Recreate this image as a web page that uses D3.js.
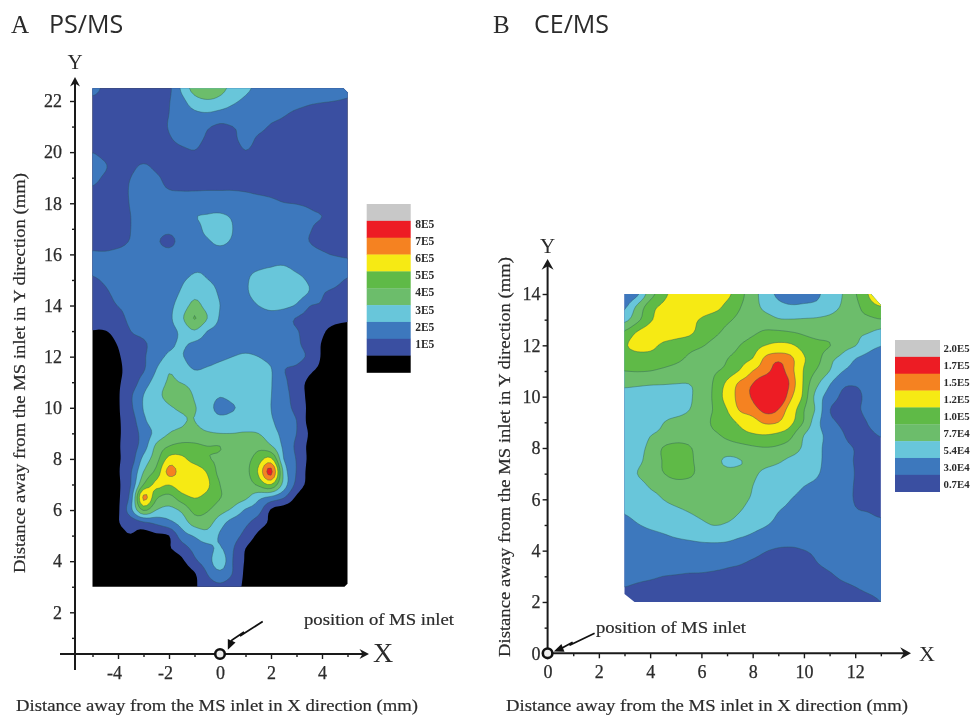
<!DOCTYPE html>
<html>
<head>
<meta charset="utf-8">
<script src="https://cdn.jsdelivr.net/npm/d3@7"></script>
<style>
html,body{margin:0;padding:0;background:#fff;overflow:hidden}
svg{display:block;filter:blur(0.45px)}
text{font-family:"Liberation Serif",serif;fill:#2b2b2b}
</style>
</head>
<body>
<svg id="chart" width="971" height="715"></svg>
<script>
// ---------- shared ----------
const bandColors = ["#000000","#3a4fa1","#3d78bd","#68c6da","#6cbd6b","#5fba47","#f6ea14","#f58221","#ed1c24","#c8c8c8"];
const yAxisTitle = "Distance away from the MS inlet in Y direction (mm)";
const xAxisTitle = "Distance away from the MS inlet in X direction (mm)";
const inletLabel = "position of MS inlet";

// ---------- panel A: PS/MS, intensity in units of 1E5 ----------
const psThresholds = [0,1,2,3,4,5,6,7,8,9];
const psLegend = ["8E5","7E5","6E5","5E5","4E5","3E5","2E5","1E5"];
const psXTicks = [-4,-2,0,2,4];
const psXMinor = [-5,-3,-1,1,3,5];
const psYTicks = [2,4,6,8,10,12,14,16,18,20,22];
const psYMinor = [1,3,5,7,9,11,13,15,17,19,21];
const psXRange = [-5,5];
const psYRange = [3,22.5];
const psGrid = [
[2.3,1.8,1.6,1.6,1.6,1.7,1.8,3.2,4.4,4.6,4.3,3.7,3.2,2.8,2.6,2.5,2.4,2.4,2.4,2.3,2.1],
[1.8,1.7,1.6,1.6,1.6,1.6,1.95,2.7,3.6,3.9,3.7,3.2,2.8,2.5,2.4,2.3,2.2,2.1,2.05,2,1.95],
[1.7,1.6,1.6,1.6,1.6,1.6,2,2.4,2.8,2.9,2.7,2.5,2.3,2.2,2.15,2.05,1.9,1.8,1.7,1.7,1.6],
[1.6,1.6,1.5,1.5,1.5,1.6,2.05,2.3,2.4,2.1,1.85,2,2.15,2.15,1.95,1.85,1.7,1.6,1.6,1.5,1.5],
[1.6,1.6,1.5,1.5,1.5,1.5,1.9,2.2,2.2,1.9,1.7,1.85,2.2,1.9,1.7,1.6,1.6,1.5,1.5,1.5,1.5],
[1.98,1.7,1.5,1.5,1.5,1.5,1.6,1.8,1.95,1.7,1.5,1.6,1.95,1.7,1.6,1.5,1.5,1.5,1.5,1.5,1.5],
[2.4,2.05,1.7,1.8,2.05,1.8,1.6,1.5,1.5,1.5,1.5,1.5,1.5,1.5,1.5,1.5,1.5,1.5,1.5,1.5,1.5],
[2.2,1.9,1.8,2,2.3,2.1,1.8,1.7,1.7,1.7,1.7,1.7,1.6,1.6,1.6,1.5,1.5,1.5,1.5,1.5,1.5],
[1.9,1.7,1.8,2.05,2.3,2.2,2.02,1.98,1.98,2,2,2,1.95,1.85,1.8,1.7,1.7,1.6,1.6,1.5,1.5],
[1.7,1.6,1.7,2.05,2.4,2.5,2.4,2.4,2.5,2.6,2.6,2.5,2.4,2.3,2.15,2.02,1.98,1.9,1.7,1.6,1.6],
[1.7,1.6,1.7,2,2.4,2.5,2.4,2.5,2.95,3.05,3.1,2.9,2.5,2.4,2.3,2.3,2.2,2.1,2,1.7,1.6],
[1.6,1.6,1.7,2,2.3,2.3,2.2,2.4,2.7,3.2,3.4,3,2.6,2.5,2.4,2.4,2.2,2.05,1.8,1.6,1.6],
[1.7,1.7,1.8,2.05,2.3,2.1,1.8,2.3,2.6,2.9,3.15,2.9,2.6,2.5,2.5,2.5,2.3,2,1.8,1.7,1.7],
[2.1,2.1,2.2,2.3,2.4,2.4,2.3,2.5,2.6,2.7,2.7,2.6,2.6,2.7,2.8,2.7,2.6,2.3,2.1,1.95,1.9],
[2.2,2.4,2.5,2.5,2.6,2.6,2.6,2.7,2.9,2.9,2.7,2.7,2.8,2.9,3,3.05,2.85,2.7,2.5,2.4,2.2],
[1.9,2.1,2.3,2.4,2.5,2.5,2.6,2.9,3.15,3.02,2.8,2.7,2.9,3.3,3.5,3.5,3.2,2.9,2.5,2.2,1.95],
[1.7,1.9,2.2,2.4,2.5,2.5,2.7,3.1,3.7,3.4,2.9,2.7,2.9,3.3,3.5,3.5,3.4,2.95,2.1,1.85,1.7],
[1.5,1.7,2.02,2.2,2.4,2.5,2.8,3.4,4.3,3.6,3,2.7,2.7,3,3.2,3.2,2.9,2.05,1.9,1.5,1.4],
[1.2,1.4,1.7,2.2,2.3,2.4,2.8,3.8,5.05,4,2.9,2.6,2.5,2.6,2.7,2.4,1.95,1.7,1.5,1.3,1.15],
[.98,.98,1.3,2,2.2,2.4,2.7,3.2,3.9,3,2.7,2.6,2.4,2.5,2.5,2.3,2.05,1.7,1.15,.7,.6],
[.5,.7,1.05,1.6,1.9,2.3,2.8,3.1,2.85,2.6,2.5,2.4,2.4,2.4,2.4,2.3,2.15,1.6,.95,.6,.5],
[.3,.4,.9,1.4,1.9,2.5,3.2,3.05,2.7,2.6,2.8,3,3.2,3,2.7,2.5,2.3,1.8,.9,.5,.4],
[.3,.4,.85,1.3,1.9,3,3.9,3.4,2.98,3.1,3.3,3.4,3.5,3.4,3.05,2.05,1.8,1.2,.8,.4,.3],
[.3,.4,.9,1.4,2.5,3.4,4.1,3.95,3.6,3.4,3.4,3.5,3.6,3.5,3.05,2.25,1.4,.85,.5,.3,.3],
[.3,.4,.9,1.85,3,3.7,4.3,4.5,3.9,3.5,3.1,3.4,3.6,3.5,3.02,2.4,1.5,.8,.5,.3,.3],
[.3,.4,.9,1.8,3.05,3.5,3.9,4.1,4.05,3.5,2.6,2.9,3.4,3.4,3,2.4,1.7,.8,.4,.3,.3],
[.3,.4,.9,1.5,2.8,3.5,3.8,3.95,4,3.6,3.4,3.5,3.5,3.4,3.1,2.5,2,.7,.4,.3,.3],
[.3,.4,.9,1.4,2.4,3.3,4,4.2,4.3,4.1,4,4,4.05,4,3.4,2.7,2,.9,.4,.3,.3],
[.2,.3,.9,1.5,2.5,4.2,5,5.3,5.2,5,5,4.5,4.1,4.7,4.1,2.8,1.8,.8,.4,.3,.3],
[.2,.3,.9,1.5,3.3,4.6,6.3,6.2,5.6,5.1,4.8,4.4,4.6,5.5,6.2,3,1.95,.8,.4,.3,.3],
[.2,.3,.9,1.9,4,5.3,7.3,6.6,6.6,5.9,4.7,4.5,4.7,6.1,8.3,3.7,1.95,.7,.3,.3,.3],
[.2,.3,.85,2,5,6.2,6.05,6.6,6.7,6.2,5,4.4,4.5,5.2,6,3.6,1.7,.7,.3,.3,.3],
[.2,.2,.85,2.4,7.2,5.2,4.7,5.6,6.05,5.7,5.05,4.5,4.2,3.3,2.8,2.1,.85,.3,.3,.3,.3],
[.2,.3,.85,2.7,5.1,4,3.7,4.2,5.3,5.1,4.4,3.8,2.9,2.4,.9,.5,.3,.3,.3,.3,.3],
[.2,.3,.95,1.3,1.8,2.2,2.7,3.4,4.4,4.4,3.4,2.6,2.2,1.5,.8,.4,.3,.3,.3,.3,.3],
[.2,.3,.7,.95,.6,.8,1,2.5,3.1,3.6,2.9,2.4,1.7,.8,.4,.3,.3,.3,.3,.3,.3],
[.2,.2,.2,.3,.3,.4,.9,1.5,2.3,2.7,3.1,2.1,1,.4,.3,.3,.3,.3,.3,.3,.3],
[.2,.2,.2,.2,.2,.2,.4,.8,1.8,2.5,3.6,2,.9,.3,.3,.3,.3,.3,.3,.3,.3],
[.2,.2,.2,.2,.2,.2,.2,.3,.9,2,2.7,1.95,.8,.3,.3,.3,.3,.3,.3,.3,.3],
[.2,.2,.2,.2,.2,.2,.2,.2,.85,1.5,1.8,1.4,.8,.2,.2,.2,.2,.2,.2,.2,.2]
];

// ---------- panel B: CE/MS, intensity in units of 1E4 ----------
const ceThresholds = [0,0.7,3,5.4,7.7,10,12,15,17,20];
const ceLegend = ["2.0E5","1.7E5","1.5E5","1.2E5","1.0E5","7.7E4","5.4E4","3.0E4","0.7E4"];
const ceXTicks = [0,2,4,6,8,10,12];
const ceXMinor = [1,3,5,7,9,11,13];
const ceYTicks = [0,2,4,6,8,10,12,14];
const ceYMinor = [1,3,5,7,9,11,13];
const ceXRange = [3,13];
const ceYRange = [2,14];
const ceGrid = [
[3.5,5,9,11.3,13,14.6,14,13.3,12.5,10.7,8.7,6.5,5,4.3,4.6,5,6.6,7.7,9.8,12,14],
[5,8.2,11.2,12.4,13.4,13.5,13.3,12.8,11.4,10.1,8.8,7,6.1,5.7,5.8,6,6.7,8,9.4,11,11.9],
[7,9.4,11.7,12.8,13.2,12.7,11.8,10.9,10.3,9.6,9.2,8.8,7.9,7.8,7.9,8,8.3,8.9,9.3,9.5,9.9],
[10.4,12.2,13,13,12.8,12.4,11.3,10.4,9.6,9.2,9.7,10.3,10.4,10.1,9.7,9.3,8.9,8.5,8.1,7.8,7],
[11.8,12.8,12.5,11.7,11.2,10.7,10.2,9.4,8.9,10,10.9,12,12.6,12.3,11,10.5,10.1,8.5,7.8,6.3,5.5],
[10.8,11,11.3,11.1,10.6,9.7,9,8.7,9.9,11,12,15.5,16.5,15.5,12.2,10.8,8.4,7.1,5.5,4.8,4.3],
[10,10.1,10,9.6,9.1,8.7,8.5,9.7,10.6,12.2,15,16.4,17.6,15.8,11.8,9.8,7.7,5.5,4.6,4.3,4.2],
[8.3,8.1,7.9,7.8,7.7,7.7,8.3,10.3,12.5,15.6,17,18.5,18.6,16.5,11.6,8.2,5.6,3.5,3.2,3.7,4.1],
[6.5,6.4,6.3,6.5,6.8,7.4,8.6,10.4,13,16,17.2,19,19.2,15.4,11.3,6.8,4.4,2.6,2.4,3.6,4.2],
[6.1,6.1,6.1,6.2,6.4,7.6,8.8,10.2,12,15.3,16.2,17.6,17,13.5,10.1,7.2,3.1,2.3,2.5,3.7,4.2],
[5.9,6,6.3,7.6,8.6,8.9,9,10.4,10.9,12.5,13.9,15.4,15,12.5,9.8,6.2,3.7,2.6,2,3.1,3.8],
[5.8,6.2,7.6,8.3,9,9.2,9.3,9.7,10.4,11.2,11.7,11.9,11.4,10.4,7.7,6.1,4.7,3.2,2.3,2.6,3.1],
[5.6,6.8,8.3,10.1,10.6,10.2,9.3,9,9,9.3,9.7,9.9,9.7,9,7.3,6,4.6,3.5,2.9,2,2.5],
[5.6,7,8.7,10.1,10.9,10.4,9.3,8.4,7.3,7.6,8.3,8.4,8,7.1,6.5,6,4.4,3.6,2.9,2.2,2.1],
[5.5,7.7,9,9.9,10.7,10.4,9.4,8.8,8.4,8.3,8,7.3,6.8,6.4,6.1,5.6,4.5,3.7,2.95,2.1,2],
[5.9,6.5,7.9,8.5,9,9.1,9,8.9,8.8,8.6,7.7,7,6.4,5.9,5.4,5,4.4,3.6,2.9,2.2,2.1],
[5.8,6.1,6.8,7.7,8.3,8.6,8.7,8.6,8.5,8.1,7.5,6.7,6,5.4,5,4.7,4.2,3.6,2.9,2.4,2.4],
[5.5,5.9,6.3,6.7,7.2,7.7,8.1,8.3,8.2,7.7,7,6.2,5.4,5,4.5,4.3,4.1,3.7,3.15,3,2.7],
[4.8,5.3,5.7,6,6.4,6.8,7.3,7.75,7.5,6.9,6,5.5,5,4.7,4.4,4.3,4.1,3.9,3.7,3.5,3.4],
[4.2,4.5,4.8,5.1,5.4,5.6,5.8,5.9,5.8,5.4,5,4.6,4.3,4.2,4.1,4.1,4,3.9,3.8,3.7,3.6],
[3.7,4,4.2,4.4,4.5,4.6,4.7,4.7,4.6,4.2,3.7,3.1,2.7,2.6,2.95,3.3,3.5,3.6,3.7,3.7,3.7],
[3.6,3.7,3.8,3.8,3.8,3.7,3.6,3.5,3.3,3.1,2.7,2.4,2.2,2.2,2.4,2.95,3.3,3.5,3.6,3.7,3.7],
[3.4,3.3,3.2,3,2.9,2.8,2.8,2.7,2.6,2.4,2.2,2,1.9,1.9,2,2.4,2.8,3.2,3.4,3.5,3.6],
[2.9,2.7,2.5,2.4,2.3,2.2,2.2,2.1,2.1,2,1.9,1.8,1.7,1.7,1.8,2,2.3,2.6,2.9,3.2,3.4],
[2.2,2.1,2,1.9,1.8,1.8,1.7,1.7,1.6,1.6,1.5,1.5,1.5,1.4,1.5,1.7,1.9,2.1,2.3,2.6,3]
];

const svg = d3.select("#chart");

// Rendering helper: resample a read grid with a Catmull-Rom kernel so the drawn contours are round
function refine(grid, k){
  const ny=grid.length, nx=grid[0].length;
  const cr=(a,b,c,d,t)=>0.5*(2*b+(c-a)*t+(2*a-5*b+4*c-d)*t*t+(3*b-a-3*c+d)*t*t*t);
  const at=(j,i)=>grid[Math.max(0,Math.min(ny-1,j))][Math.max(0,Math.min(nx-1,i))];
  const out=[];
  for(let m=0;m<=(ny-1)*k;m++){
    const j=Math.min(Math.floor(m/k),ny-2), v=m/k-j;
    const row=[];
    for(let n=0;n<=(nx-1)*k;n++){
      const i=Math.min(Math.floor(n/k),nx-2), u=n/k-i;
      const c=[-1,0,1,2].map(dj=>cr(at(j+dj,i-1),at(j+dj,i),at(j+dj,i+1),at(j+dj,i+2),u));
      row.push(cr(c[0],c[1],c[2],c[3],v));
    }
    out.push(row);
  }
  return out;
}

function panel(cfg){
  const g = svg.append("g");
  const {sx, sy, thresholds, colors, xRange, yRange} = cfg;
  const grid = refine(cfg.grid,4);
  const ny = grid.length, nx = grid[0].length;
  const dx = (xRange[1]-xRange[0])/(nx-1), dy = (yRange[1]-yRange[0])/(ny-1);
  const contours = d3.contours().size([nx,ny]).smooth(true).thresholds(thresholds)(grid.flat().map(v=>Math.max(v,0.01)));
  const path = d3.geoPath(d3.geoTransform({point(cx,cy){
    this.stream.point(sx(xRange[0]+(cx-0.5)*dx), sy(yRange[1]-(cy-0.5)*dy));
  }}));
  const x0=sx(xRange[0]),x1=sx(xRange[1]),y0=sy(yRange[0]),y1=sy(yRange[1]);
  const c=cfg.corner;
  const outline = [[x0+c.bl[0],y0],[x1-c.br[0],y0],[x1,y0-c.br[1]],[x1,y1+c.tr[1]],[x1-c.tr[0],y1],[x0,y1],[x0,y0-c.bl[1]]];
  g.append("clipPath").attr("id",cfg.id).append("polygon").attr("points",outline.join(" "));
  g.append("g").attr("clip-path",`url(#${cfg.id})`).selectAll("path").data(contours).join("path")
    .attr("d",path)
    .attr("fill",(d,i)=>colors[i])
    .attr("stroke",(d,i)=>i<2?"none":"#2d5a5a")
    .attr("stroke-opacity",0.6)
    .attr("stroke-width",0.7);

  // axes
  const ink="#1a1a1a";
  const xAxis = g.append("g").attr("transform",`translate(0,${cfg.xAxisY})`);
  xAxis.call(d3.axisBottom(sx).tickValues(cfg.xTicks).tickFormat(d=>String(d)).tickSize(5).tickPadding(cfg.xPad));
  const xMin = g.append("g").attr("transform",`translate(0,${cfg.xAxisY})`);
  xMin.call(d3.axisBottom(sx).tickValues(cfg.xMinor).tickFormat("").tickSize(3));
  const yAxis = g.append("g").attr("transform",`translate(${cfg.yAxisX},0)`);
  yAxis.call(d3.axisLeft(sy).tickValues(cfg.yTicks).tickSize(5).tickPadding(cfg.yPad));
  const yMin = g.append("g").attr("transform",`translate(${cfg.yAxisX},0)`);
  yMin.call(d3.axisLeft(sy).tickValues(cfg.yMinor).tickFormat("").tickSize(3));
  [xAxis,xMin,yAxis,yMin].forEach(a=>{
    a.select(".domain").remove();
    a.selectAll("line").attr("stroke",ink).attr("stroke-width",1.4);
    a.selectAll("text").attr("font-size",18).attr("font-family","Liberation Serif").attr("fill","#2b2b2b").attr("stroke","#2b2b2b").attr("stroke-width",0.25);
  });
  xAxis.selectAll("text").attr("dx",d=>d<0?-4:0);
  // axis lines with arrow heads
  const ax = g.append("g").attr("stroke",ink).attr("fill","none");
  ax.append("line").attr("x1",cfg.yAxisX).attr("x2",cfg.yAxisX).attr("y1",cfg.yLine[0]).attr("y2",cfg.yLine[1]).attr("stroke-width",2);
  ax.append("line").attr("x1",cfg.xLine[0]).attr("x2",cfg.xLine[1]).attr("y1",cfg.xAxisY).attr("y2",cfg.xAxisY).attr("stroke-width",2);
  const ah=cfg.arrow;
  const ytip=cfg.yLine[0], xtip=cfg.xLine[1];
  g.append("path").attr("fill",ink).attr("d",`M${cfg.yAxisX},${ytip-3}L${cfg.yAxisX+ah},${ytip+ah*1.3}L${cfg.yAxisX},${ytip+ah*0.7}L${cfg.yAxisX-ah},${ytip+ah*1.3}Z`);
  g.append("path").attr("fill",ink).attr("d",`M${xtip+3},${cfg.xAxisY}L${xtip-ah*1.3},${cfg.xAxisY-ah}L${xtip-ah*0.7},${cfg.xAxisY}L${xtip-ah*1.3},${cfg.xAxisY+ah}Z`);

  // axis letters and titles
  g.append("text").attr("x",cfg.yAxisX).attr("y",cfg.yLetterY).attr("text-anchor","middle").attr("font-size",21).text("Y");
  g.append("text").attr("x",cfg.xLetter[0]).attr("y",cfg.xLetter[1]).attr("font-size",cfg.xLetter[2]).text("X");
  g.append("text").attr("transform",`translate(${cfg.yTitle[0]},${cfg.yTitle[1]}) rotate(-90)`).attr("font-size",16.5)
    .attr("stroke","#2b2b2b").attr("stroke-width",0.2)
    .attr("textLength",400).attr("lengthAdjust","spacingAndGlyphs").text(yAxisTitle);
  g.append("text").attr("x",cfg.xTitle[0]).attr("y",cfg.xTitle[1]).attr("font-size",16.5)
    .attr("stroke","#2b2b2b").attr("stroke-width",0.2)
    .attr("textLength",402).attr("lengthAdjust","spacingAndGlyphs").text(xAxisTitle);

  // panel title
  g.append("text").attr("x",cfg.letter[0]).attr("y",33).attr("font-size",25).text(cfg.letter[1]);
  g.append("text").attr("x",cfg.title[0]).attr("y",33).attr("font-size",25).style("font-family","'Open Sans',sans-serif").attr("fill","#222").text(cfg.title[1]);

  // MS inlet marker, arrow and label
  const ix=sx(0), iy=cfg.xAxisY;
  g.append("circle").attr("cx",ix).attr("cy",iy).attr("r",4.8).attr("fill","#eee").attr("stroke","#111").attr("stroke-width",2.6);
  const zig=cfg.zig.map(p=>[ix+p[0],iy+p[1]]);
  g.append("path").attr("d",d3.line()(zig)).attr("fill","none").attr("stroke","#111").attr("stroke-width",1.8);
  const t=zig[zig.length-1], b=zig[zig.length-2], ang=Math.atan2(t[1]-b[1],t[0]-b[0]);
  const hd=[[t[0]+Math.cos(ang)*3,t[1]+Math.sin(ang)*3],
    [t[0]-Math.cos(ang-0.55)*8,t[1]-Math.sin(ang-0.55)*8],
    [t[0]-Math.cos(ang+0.55)*8,t[1]-Math.sin(ang+0.55)*8]];
  g.append("polygon").attr("points",hd.join(" ")).attr("fill","#111");
  g.append("text").attr("x",cfg.inlet[0]).attr("y",cfg.inlet[1]).attr("font-size",16)
    .attr("stroke","#2b2b2b").attr("stroke-width",0.2)
    .attr("textLength",150).attr("lengthAdjust","spacingAndGlyphs").text(inletLabel);

  // legend
  const lg=g.append("g");
  const n=cfg.legendColors.length;
  const ly=d3.scaleBand().domain(d3.range(n)).range(cfg.legY);
  lg.selectAll("rect").data(cfg.legendColors).join("rect")
    .attr("x",cfg.legX[0]).attr("width",cfg.legX[1]-cfg.legX[0])
    .attr("y",(d,i)=>ly(i)).attr("height",ly.bandwidth()+0.3).attr("fill",d=>d);
  lg.selectAll("text").data(cfg.legend).join("text")
    .attr("x",cfg.legX[1]+cfg.legLabel[0])
    .attr("y",(d,i)=>cfg.legLabel[1]+cfg.legLabel[2]*i)
    .attr("font-size",cfg.legLabel[3]).attr("font-weight","bold").attr("fill","#333").attr("dominant-baseline","middle")
    .text(d=>d);
}

panel({
  id:"clipA", grid:psGrid, thresholds:psThresholds, colors:bandColors,
  sx:d3.scaleLinear([-4,4],[118,322]), sy:d3.scaleLinear([2,22],[612.3,101]),
  xRange:psXRange, yRange:psYRange, corner:{bl:[0,0],br:[3,3],tr:[4,4]},
  xTicks:psXTicks, xMinor:psXMinor, yTicks:psYTicks, yMinor:psYMinor,
  xAxisY:654, yAxisX:75, yLine:[80,670], xLine:[60,366], arrow:5, xPad:7, yPad:8,
  yLetterY:69, xLetter:[373,662,28],
  yTitle:[25,573], xTitle:[16,711],
  letter:[11,"A"], title:[49,"PS/MS"],
  zig:[[42.7,-32.5],[20,-18],[24,-22],[12,-14],[9,-7]], inlet:[304,625],
  legend:psLegend, legendColors:[bandColors[9],...bandColors.slice(1,9).reverse(),bandColors[0]],
  legX:[366.7,410.7], legY:[204,372.5], legLabel:[4.5,225,17.2,11.5]
});
panel({
  id:"clipB", grid:ceGrid, thresholds:ceThresholds, colors:["#ffffff",...bandColors.slice(1)],
  sx:d3.scaleLinear([0,12],[547.6,855.2]), sy:d3.scaleLinear([0,14],[653.3,294]),
  xRange:ceXRange, yRange:ceYRange, corner:{bl:[10,8],br:[0,0],tr:[10,11]},
  xTicks:ceXTicks, xMinor:ceXMinor, yTicks:ceYTicks, yMinor:ceYMinor,
  xAxisY:653.3, yAxisX:547.6, yLine:[262,656], xLine:[546,908], arrow:6, xPad:7, yPad:2,
  yLetterY:253, xLetter:[919,661,22],
  yTitle:[510,657], xTitle:[506,711],
  letter:[493,"B"], title:[534,"CE/MS"],
  zig:[[47,-20],[22,-8],[25,-11],[14,-5],[9,-3]], inlet:[596,633],
  legend:ceLegend, legendColors:[bandColors[9],...bandColors.slice(1,9).reverse()],
  legX:[895,940], legY:[340,491.7], legLabel:[3.5,350,16.9,10.8]
});
</script>
</body>
</html>
